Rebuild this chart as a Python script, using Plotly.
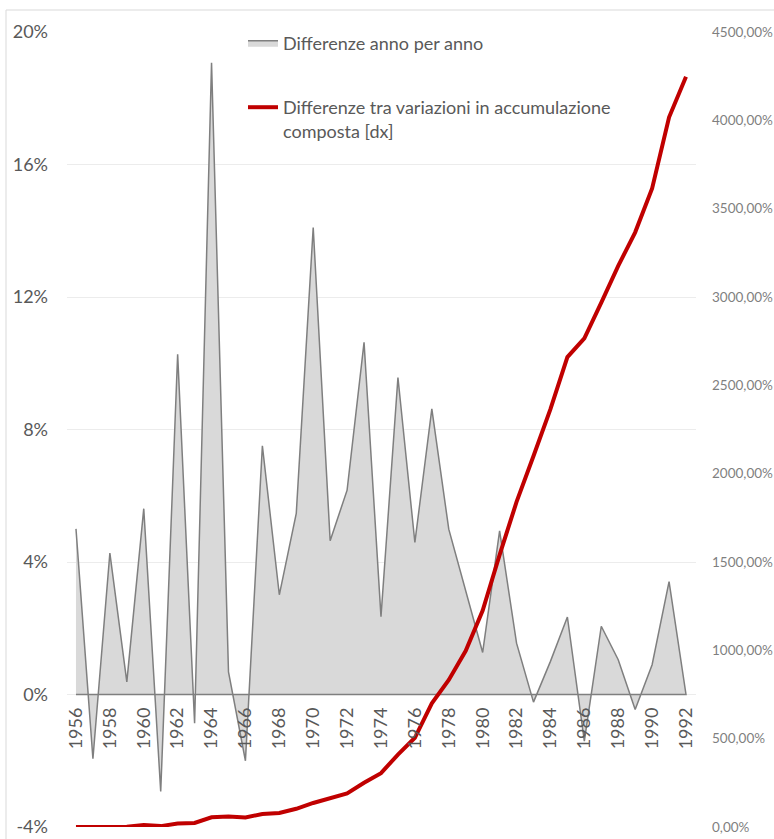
import plotly.graph_objects as go

# Anni della serie
years = list(range(1956, 1993))

# Differenze anno per anno (%), asse sinistro
annual_diff = [
    5.00, -1.94, 4.27, 0.38, 5.61, -2.93, 10.27, -0.87, 19.07, 0.68,
    -2.00, 7.51, 3.01, 5.47, 14.10, 4.64, 6.17, 10.63, 2.35, 9.57,
    4.59, 8.62, 4.99, 3.13, 1.27, 4.94, 1.55, -0.23, 1.00, 2.34,
    -1.41, 2.06, 1.05, -0.45, 0.90, 3.41, 0.00,
]

# Differenze tra variazioni in accumulazione composta (%), asse destro
compound_diff = [
    0, 0, 1, 2, 11, 5, 20, 23, 55, 60,
    54, 74, 79, 103, 136, 162, 190, 250, 305, 410,
    505, 700, 832, 997, 1225, 1540, 1840, 2100, 2365, 2660,
    2766, 2968, 3176, 3366, 3615, 4017, 4247,
]

left_ticks = [-4, 0, 4, 8, 12, 16, 20]
left_labels = [f"{v}%" for v in left_ticks]
right_ticks = list(range(0, 4501, 500))
right_labels = [f"{v},00%" for v in right_ticks]
year_ticks = years[::2]
year_labels = [str(y) for y in year_ticks]

fig = go.Figure()

# Area chiusa sulla linea dello zero (contorno incluso)
fig.add_trace(go.Scatter(
    x=years + [years[-1], years[0]],
    y=annual_diff + [0, 0],
    mode="lines",
    fill="toself",
    fillcolor="#d9d9d9",
    line=dict(color="#7f7f7f", width=1.5),
    name="Differenze anno per anno",
    legend="legend",
    showlegend=True,
    hoverinfo="skip",
))

fig.add_trace(go.Scatter(
    x=years,
    y=compound_diff,
    yaxis="y2",
    mode="lines",
    line=dict(color="#c00000", width=4),
    name="Differenze tra variazioni in accumulazione<br>composta [dx]",
    legend="legend2",
    showlegend=True,
))

W, H = 774, 839
L, R, T, B = 67, 78, 32, 12
pw, ph = W - L - R, H - T - B


def px_x(px):
    return (px - L) / pw


def px_y(py):
    return (H - B - py) / ph


fig.update_layout(
    width=W,
    height=H,
    margin=dict(l=L, r=R, t=T, b=B, pad=0, autoexpand=False),
    paper_bgcolor="white",
    plot_bgcolor="white",
    showlegend=True,
    font=dict(family="Lato", color="#595959"),
    xaxis=dict(
        range=[1955.47, 1992.59],
        tickvals=year_ticks,
        ticktext=year_labels,
        tickangle=-90,
        anchor="free",
        position=px_y(695),
        automargin=False,
        showgrid=False,
        zeroline=False,
        showline=False,
        ticks="",
        ticklabelstandoff=8,
        tickfont=dict(size=18, color="#595959", family="Lato"),
    ),
    yaxis=dict(
        range=[-4, 20],
        tickvals=left_ticks,
        ticktext=left_labels,
        automargin=False,
        showgrid=True,
        gridcolor="#ececec",
        gridwidth=1,
        zeroline=False,
        showline=False,
        ticks="",
        ticklabelstandoff=18,
        tickfont=dict(size=18, color="#595959", family="Lato"),
    ),
    yaxis2=dict(
        range=[0, 4500],
        tickvals=right_ticks,
        ticktext=right_labels,
        overlaying="y",
        side="right",
        automargin=False,
        showgrid=False,
        zeroline=False,
        showline=False,
        ticks="",
        ticklabelstandoff=15,
        tickfont=dict(size=13.5, color="#7f7f7f", family="Lato"),
    ),
    legend=dict(
        x=px_x(243), xanchor="left",
        y=px_y(43), yanchor="middle",
        bgcolor="rgba(0,0,0,0)",
        font=dict(size=18, color="#595959", family="Lato"),
    ),
    legend2=dict(
        x=px_x(243), xanchor="left",
        y=px_y(89), yanchor="top",
        valign="top",
        bgcolor="rgba(0,0,0,0)",
        font=dict(size=18, color="#595959", family="Lato"),
    ),
    shapes=[dict(
        type="rect", xref="paper", yref="paper",
        x0=px_x(6), x1=px_x(800), y0=px_y(850), y1=px_y(10),
        line=dict(color="#d9d9d9", width=1),
        fillcolor="rgba(0,0,0,0)",
        layer="below",
    )],
)

fig.write_html("out.html")
